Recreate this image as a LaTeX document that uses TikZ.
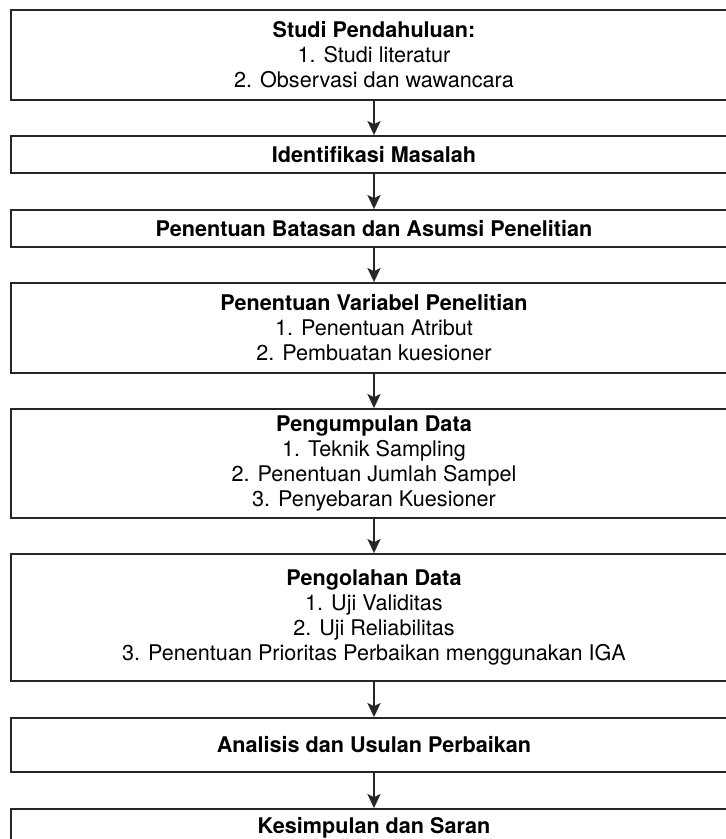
\documentclass[tikz,border=0pt]{standalone}
\usepackage{fontspec}
\setmainfont{TeX Gyre Heros}
\usepackage{xcolor}
\usepackage{tikz}
\usetikzlibrary{arrows.meta}

\tikzset{
	tahap/.style={draw=black!85, line width=1.8pt, minimum width=726pt, inner sep=0pt,
		align=center, font=\fontsize{21.6}{25}\selectfont},
	panah/.style={draw=black!85, line width=1.8pt, -{Stealth[length=14pt, width=13pt, inset=3pt]}}
}

\begin{document}
\begin{tikzpicture}[x=1pt, y=-1pt]
			\clip (0, 0) rectangle (726, 839);
			\fill[white] (0, 0) rectangle (726, 839);
			\node[tahap, minimum height=90pt] (studi) at (374, 55)
			{
				\textbf{Studi Pendahuluan:}\\
				1. Studi literatur\\
				2. Observasi dan wawancara
			};
			\node[tahap, minimum height=37pt] (identifikasi) at (374, 154.5) {\textbf{Identifikasi Masalah}};
			\node[tahap, minimum height=37pt] (batasan) at (374, 228.5) {\textbf{Penentuan Batasan dan Asumsi Penelitian}};
			\node[tahap, minimum height=90pt] (variabel) at (374, 328)
			{
				\textbf{Penentuan Variabel Penelitian}\\
				1. Penentuan Atribut\\
				2. Pembuatan kuesioner
			};
			\node[tahap, minimum height=109pt] (pengumpulan) at (374, 463.5)
			{
				\textbf{Pengumpulan Data}\\
				1. Teknik Sampling\\
				2. Penentuan Jumlah Sampel\\
				3. Penyebaran Kuesioner
			};
			\node[tahap, minimum height=127pt] (pengolahan) at (374, 617.5)
			{
				\textbf{Pengolahan Data}\\
				1. Uji Validitas\\
				2. Uji Reliabilitas\\
				3. Penentuan Prioritas Perbaikan menggunakan IGA
			};
			\node[tahap, minimum height=54pt] (analisis) at (374, 745) {\textbf{Analisis dan Usulan Perbaikan}};
			\node[tahap, minimum height=37pt] (kesimpulan) at (374, 827.5) {\textbf{Kesimpulan dan Saran}};
			\foreach \dari/\ke in {studi/identifikasi, identifikasi/batasan, batasan/variabel,
				variabel/pengumpulan, pengumpulan/pengolahan, pengolahan/analisis, analisis/kesimpulan}
				\draw[panah] (\dari) -- (\ke);
		\end{tikzpicture}
\end{document}
